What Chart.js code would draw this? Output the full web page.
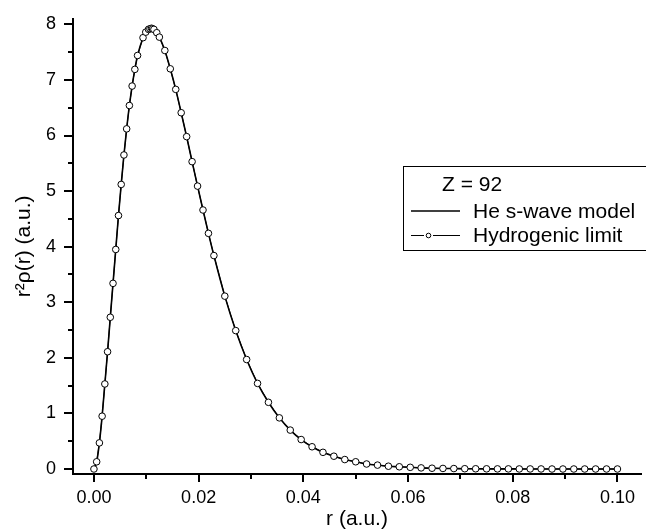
<!DOCTYPE html>
<html>
<head>
<meta charset="utf-8">
<script src="https://cdn.jsdelivr.net/npm/chart.js@4.4.1/dist/chart.umd.min.js"></script>
<style>
  html, body { margin: 0; padding: 0; background: #fff; }
  #grafico { display: block; }
</style>
</head>
<body>
<canvas id="grafico" width="646" height="531"></canvas>
<script>
// ==================== DADOS ====================
const rValues = [
  0, 0.000521, 0.001042, 0.001563, 0.002083, 0.002604, 0.003125, 0.003646, 0.004167,
  0.004688, 0.005208, 0.005729, 0.00625, 0.006771, 0.007292, 0.007813, 0.008333,
  0.009375, 0.0099, 0.010417, 0.0107, 0.011, 0.0112, 0.011458, 0.012, 0.0125,
  0.013542, 0.014583, 0.015625, 0.016667, 0.017708, 0.01875, 0.019792, 0.020833,
  0.021875, 0.022917, 0.025, 0.027083, 0.029167, 0.03125, 0.033333, 0.035417, 0.0375,
  0.039583, 0.041667, 0.04375, 0.045833, 0.047917, 0.05, 0.052083, 0.054167, 0.05625,
  0.058333, 0.060417, 0.0625, 0.064583, 0.066667, 0.06875, 0.070833, 0.072917, 0.075,
  0.077083, 0.079167, 0.08125, 0.083333, 0.085417, 0.0875, 0.089583, 0.091667,
  0.09375, 0.095833, 0.097917, 0.1
];

// limite hidrogenoide (pontos com circulos)
const hydrogenic = [
  0, 0.13, 0.47, 0.95, 1.53, 2.11, 2.73, 3.34, 3.95,
  4.56, 5.12, 5.65, 6.12, 6.54, 6.89, 7.19, 7.44,
  7.76, 7.86, 7.91, 7.92, 7.93, 7.92, 7.91, 7.85, 7.77,
  7.53, 7.2, 6.83, 6.41, 5.98, 5.53, 5.09, 4.66,
  4.24, 3.84, 3.11, 2.49, 1.97, 1.54, 1.2, 0.92, 0.7,
  0.53, 0.4, 0.3, 0.23, 0.17, 0.13, 0.09, 0.07, 0.05,
  0.04, 0.03, 0.02, 0.014, 0.01, 0.008, 0.005, 0.004, 0.003,
  0.002, 0.002, 0.001, 0.001, 0.001, 0, 0, 0,
  0, 0, 0, 0
];

// modelo He onda-s (linha continua)
const heSwave = [
  0, 0.13, 0.47, 0.95, 1.53, 2.11, 2.73, 3.34, 3.95,
  4.56, 5.12, 5.65, 6.12, 6.54, 6.89, 7.19, 7.44,
  7.76, 7.86, 7.91, 7.92, 7.93, 7.92, 7.91, 7.85, 7.77,
  7.53, 7.2, 6.83, 6.41, 5.98, 5.53, 5.09, 4.66,
  4.24, 3.84, 3.11, 2.49, 1.97, 1.54, 1.2, 0.92, 0.7,
  0.53, 0.4, 0.3, 0.23, 0.17, 0.13, 0.09, 0.07, 0.05,
  0.04, 0.03, 0.02, 0.014, 0.01, 0.008, 0.005, 0.004, 0.003,
  0.002, 0.002, 0.001, 0.001, 0.001, 0, 0, 0,
  0, 0, 0, 0
];

const xTickValues = [0, 0.01, 0.02, 0.03, 0.04, 0.05, 0.06, 0.07, 0.08, 0.09, 0.1];
const xTickLabels = ["0.00", "", "0.02", "", "0.04", "", "0.06", "", "0.08", "", "0.10"];
const yTickValues = [0, 0.5, 1, 1.5, 2, 2.5, 3, 3.5, 4, 4.5, 5, 5.5, 6, 6.5, 7, 7.5, 8];
const yTickLabels = ["0", "", "1", "", "2", "", "3", "", "4", "", "5", "", "6", "", "7", "", "8"];

const legendTitle = "Z = 92";
const FONTE = "'Liberation Sans', Arial, sans-serif";

// ==================== PLUGINS ====================
// marcas dos eixos (maiores e menores)
const marcasEixos = {
  id: "marcasEixos",
  afterDraw(chart) {
    const ctx = chart.ctx;
    const area = chart.chartArea;
    const sx = chart.scales.x;
    const sy = chart.scales.y;
    ctx.save();
    ctx.strokeStyle = "#000";
    ctx.lineWidth = 2;
    xTickValues.forEach((v, i) => {
      const px = Math.round(sx.getPixelForValue(v));
      const len = xTickLabels[i] ? 8 : 5;
      ctx.beginPath();
      ctx.moveTo(px, area.bottom);
      ctx.lineTo(px, area.bottom + len);
      ctx.stroke();
    });
    yTickValues.forEach((v, i) => {
      const py = Math.round(sy.getPixelForValue(v));
      const len = yTickLabels[i] ? 9 : 5;
      ctx.beginPath();
      ctx.moveTo(area.left, py);
      ctx.lineTo(area.left - len, py);
      ctx.stroke();
    });
    ctx.restore();
  }
};

// legenda em caixa
const legendaCaixa = {
  id: "legendaCaixa",
  afterDraw(chart) {
    const ctx = chart.ctx;
    const ds = chart.data.datasets;
    ctx.save();
    ctx.strokeStyle = "#000";
    ctx.lineWidth = 1;
    ctx.strokeRect(403.5, 166.5, 260, 84);

    ctx.fillStyle = "#000";
    ctx.font = "21px " + FONTE;
    ctx.textBaseline = "middle";
    ctx.textAlign = "left";
    ctx.fillText(legendTitle, 442, 185);

    // linha do modelo He
    ctx.lineWidth = ds[1].borderWidth;
    ctx.beginPath();
    ctx.moveTo(411, 211);
    ctx.lineTo(460, 211);
    ctx.stroke();
    ctx.fillText(ds[1].label, 473, 212);

    // linha + circulo do limite hidrogenoide
    ctx.lineWidth = ds[0].borderWidth;
    ctx.beginPath();
    ctx.moveTo(411, 235.5);
    ctx.lineTo(424, 235.5);
    ctx.moveTo(433, 235.5);
    ctx.lineTo(460, 235.5);
    ctx.stroke();
    ctx.beginPath();
    ctx.arc(428.5, 235.5, 2.3, 0, Math.PI * 2);
    ctx.fillStyle = "#fff";
    ctx.fill();
    ctx.stroke();
    ctx.fillStyle = "#000";
    ctx.fillText(ds[0].label, 473, 236);
    ctx.restore();
  }
};

// ==================== GRAFICO ====================
const ctx = document.getElementById("grafico");

new Chart(ctx, {
  type: "line",
  data: {
    datasets: [
      {
        label: "Hydrogenic limit",
        data: rValues.map((r, i) => ({ x: r, y: hydrogenic[i] })),
        borderColor: "#000",
        borderWidth: 1,
        tension: 0,
        pointRadius: 3.3,
        pointBorderWidth: 1,
        pointBorderColor: "#000",
        pointBackgroundColor: "#fff",
        order: 0,
      },
      {
        label: "He s-wave model",
        data: rValues.map((r, i) => ({ x: r, y: heSwave[i] })),
        borderColor: "#000",
        borderWidth: 1.6,
        cubicInterpolationMode: "monotone",
        pointRadius: 0,
        order: 1,
      },
    ],
  },
  options: {
    responsive: false,
    animation: false,
    layout: { padding: { top: 14, right: 0, bottom: 0, left: 0 } },
    plugins: {
      legend: { display: false },
      tooltip: { enabled: false },
    },
    scales: {
      x: {
        type: "linear",
        min: -0.004,
        max: 0.1045,
        afterFit: (scale) => { scale.height = 57; },
        afterBuildTicks: (scale) => {
          scale.ticks = xTickValues.map((v) => ({ value: v }));
        },
        grid: { drawOnChartArea: false, drawTicks: true, tickLength: 8, tickColor: "transparent" },
        border: { display: true, color: "#000", width: 2 },
        ticks: {
          autoSkip: false,
          maxRotation: 0,
          padding: 5,
          color: "#000",
          font: { family: FONTE, size: 18 },
          callback: (value, index) => xTickLabels[index],
        },
        title: {
          display: true,
          text: "r (a.u.)",
          color: "#000",
          font: { family: FONTE, size: 21, lineHeight: 1 },
          padding: { top: 0, bottom: 1 },
        },
      },
      y: {
        type: "linear",
        min: -0.09,
        max: 8.1,
        afterFit: (scale) => { scale.width = 73; },
        afterBuildTicks: (scale) => {
          scale.ticks = yTickValues.map((v) => ({ value: v }));
        },
        grid: { drawOnChartArea: false, drawTicks: true, tickLength: 9, tickColor: "transparent" },
        border: { display: true, color: "#000", width: 2 },
        ticks: {
          autoSkip: false,
          padding: 8,
          color: "#000",
          font: { family: FONTE, size: 18 },
          callback: (value, index) => yTickLabels[index],
        },
        title: {
          display: true,
          text: "r²ρ(r) (a.u.)",
          color: "#000",
          font: { family: FONTE, size: 21, lineHeight: 1.2 },
          padding: { top: 12, bottom: 0 },
        },
      },
    },
  },
  plugins: [marcasEixos, legendaCaixa],
});
</script>
</body>
</html>
